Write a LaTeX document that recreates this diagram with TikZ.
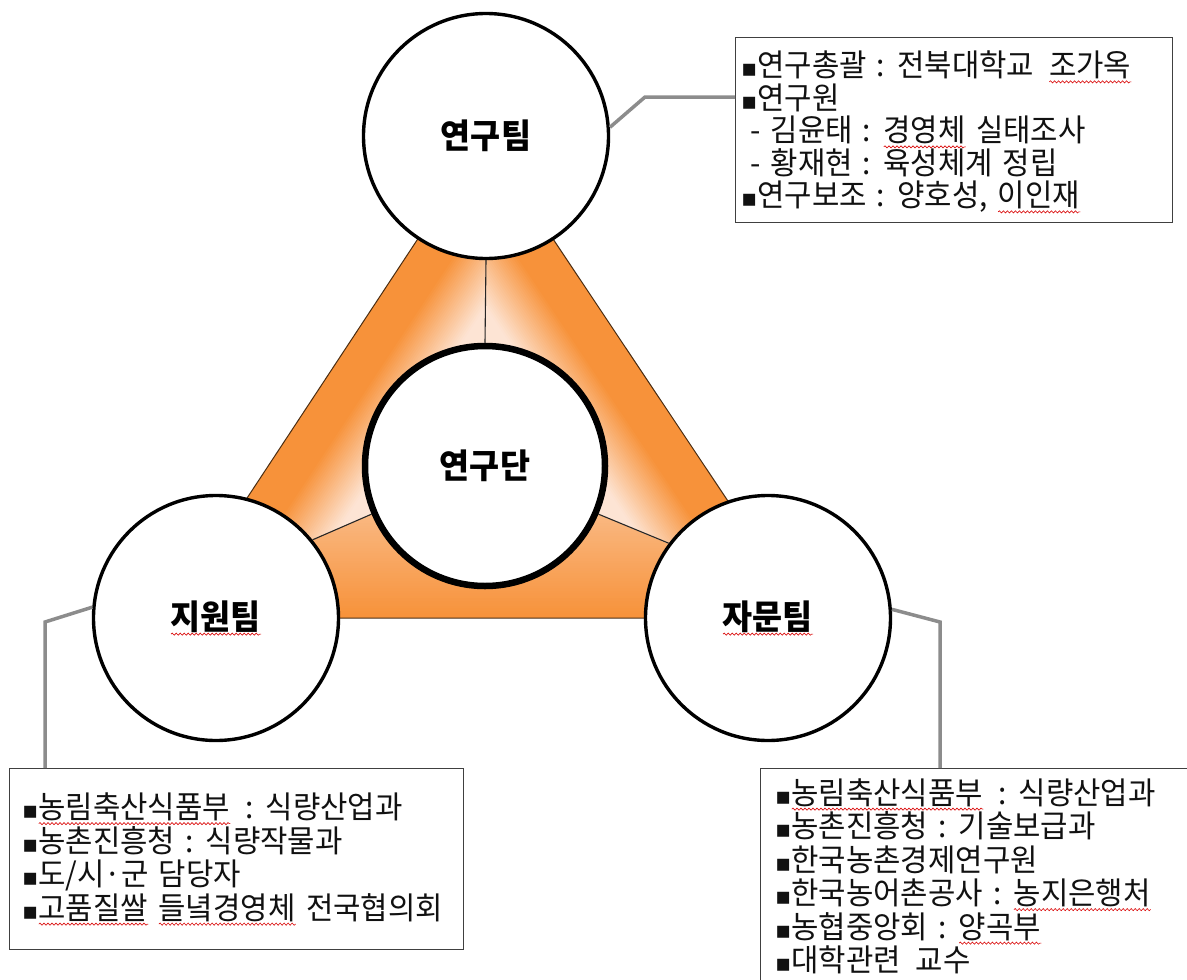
\documentclass[tikz,border=0pt]{standalone}
\usepackage{fontspec}
\setmainfont{Noto Sans CJK KR}[WordSpace=1.5, FakeStretch=0.96]
\newfontfamily\dejavu{DejaVu Sans}
\usetikzlibrary{calc,decorations.pathmorphing}
\definecolor{orng}{HTML}{F7923A}
\definecolor{peach}{HTML}{FDE4D4}
\definecolor{connc}{HTML}{8C8C8C}
\definecolor{txt}{HTML}{111111}
\newsavebox\rwbox
\newcommand\rw[1]{\sbox\rwbox{#1}\rlap{\usebox\rwbox}\tikz[baseline=0pt,x=1pt,y=1pt]{\path (0,0) -- (\wd\rwbox,0);\draw[red!85!black, line width=0.6pt, decorate, decoration={snake, amplitude=1.1pt, segment length=4pt}] (0,-5) -- (\wd\rwbox,-5);}}
\newcommand\bul{{\dejavu\fontsize{24}{24}\selectfont ▪}}
\tikzset{
  team/.style={circle, draw=black, line width=3.4pt, fill=white, minimum size=245pt, inner sep=0pt, font=\fontsize{34}{40}\selectfont\bfseries, text=black},
  core/.style={circle, draw=black, line width=6.5pt, fill=white, minimum size=240pt, inner sep=0pt, font=\fontsize{34}{40}\selectfont\bfseries, text=black},
  divider/.style={draw=black!85, line width=1.1pt},
  triedge/.style={draw=black!70!orng, line width=1pt},
  conn/.style={draw=connc, line width=3.5pt},
  infobox/.style={draw=black!75, line width=1.4pt, fill=white, anchor=north west, inner sep=0pt},
  infotext/.style={anchor=west, align=left, inner sep=0pt, text=txt, font=\fontsize{31}{33.5}\selectfont},
}
\begin{document}
\begin{tikzpicture}[x=1pt,y=-1pt]
\useasboundingbox (0,0) rectangle (1187,980);
\clip (0,0) rectangle (1187,980);
\coordinate (T) at (485,137);
\coordinate (BL) at (168,618);
\coordinate (BR) at (806,618);
\coordinate (C) at (485,466);
\coordinate (Lh) at (184,594);
\coordinate (Rh) at (791,596);
% base
\fill[peach] (T)--(BL)--(BR)--cycle;
% top-left section
\begin{scope}
\clip (T)--(C)--(Lh)--cycle;
\foreach \i in {0,...,49}{
  \pgfmathsetmacro\oa{\i*2}
  \pgfmathsetmacro\ob{\oa+2.6}
  \pgfmathsetmacro\p{max(0,min(100,100-100*(\oa-38)/55))}
  \fill[orng!\p!peach] ({540.03+\oa*0.835},{53.5+\oa*0.5503}) -- ({99.8+\oa*0.835},{721.5+\oa*0.5503}) -- ({99.8+\ob*0.835},{721.5+\ob*0.5503}) -- ({540.03+\ob*0.835},{53.5+\ob*0.5503}) -- cycle;
}
\end{scope}
% top-right section
\begin{scope}
\clip (T)--(C)--(Rh)--cycle;
\foreach \i in {0,...,49}{
  \pgfmathsetmacro\oa{\i*2}
  \pgfmathsetmacro\ob{\oa+2.6}
  \pgfmathsetmacro\p{max(0,min(100,100-100*(\oa-38)/55))}
  \fill[orng!\p!peach] ({429.49-\oa*0.8317},{53.83+\oa*0.5551}) -- ({873.6-\oa*0.8317},{719.2+\oa*0.5551}) -- ({873.6-\ob*0.8317},{719.2+\ob*0.5551}) -- ({429.49-\ob*0.8317},{53.83+\ob*0.5551}) -- cycle;
}
\end{scope}
% bottom section
\begin{scope}
\clip (C)--(Lh)--(BL)--(BR)--(Rh)--cycle;
\foreach \i in {0,...,49}{
  \pgfmathsetmacro\oa{\i*2.5}
  \pgfmathsetmacro\ob{\oa+3}
  \pgfmathsetmacro\p{max(40,min(100,100-0.45*\oa))}
  \fill[orng!\p!peach] (100,{618-\oa}) rectangle (900,{618-\ob});
}
\end{scope}
\draw[triedge] (T)--(BL)--(BR)--cycle;
% circles
\node[team] (top) at (486,136) {연구팀};
\node[team] (lt) at (216,618) {\rw{지원팀}};
\node[team] (rt) at (768,618) {\rw{자문팀}};
\node[core] (cc) at (485,466) {연구단};
% dividers
\draw[divider] (top.south) -- (cc.north);
\draw[divider] (cc.203) -- (lt.39);
\draw[divider] (cc.337) -- (rt.143);
% boxes
\node[infobox, minimum width=437pt, minimum height=185pt] (tbox) at (735,37) {};
\node[infotext, font=\fontsize{31}{32.5}\selectfont] (ttext) at ([xshift=6pt,yshift=-2pt]tbox.west) {\bul{}연구총괄 : 전북대학교 \hspace{0.15em}\rw{조가옥}\\
\bul{}연구원\\
\hspace{0.3em}- 김윤태 : \rw{경영체} 실태조사\\
\hspace{0.3em}- 황재현 : 육성체계 정립\\
\bul{}연구보조 : 양호성, \rw{이인재}};
\node[infobox, minimum width=454pt, minimum height=181pt] (lbox) at (9,768) {};
\node[infotext] (ltext) at ([xshift=13pt]lbox.west) {\bul{}\rw{농림축산식품부} \hspace{0.15em}: 식량산업과\\
\bul{}농촌진흥청 : 식량작물과\\
\bul{}도/시·군 담당자\\
\bul{}\rw{고품질쌀} \rw{들녘경영체} 전국협의회};
\node[infobox, minimum width=445pt, minimum height=215pt] (rbox) at (760,768) {};
\node[infotext] (rtext) at ([xshift=15pt]rbox.west) {\bul{}\rw{농림축산식품부} \hspace{0.15em}: 식량산업과\\
\bul{}농촌진흥청 : 기술보급과\\
\bul{}한국농촌경제연구원\\
\bul{}한국농어촌공사 : \rw{농지은행처}\\
\bul{}농협중앙회 : \rw{양곡부}\\
\bul{}대학관련 \hspace{0.15em}교수};
% connectors
\coordinate (tk) at (645,97);
\draw[conn] (top.4) -- (tk) -- (tk -| tbox.west);
\coordinate (lk) at (45,622);
\draw[conn] (lt.175) -- (lk) -- (lk |- lbox.north);
\coordinate (rk) at (940,622);
\draw[conn] (rt.4) -- (rk) -- (rk |- rbox.north);
\end{tikzpicture}
\end{document}
